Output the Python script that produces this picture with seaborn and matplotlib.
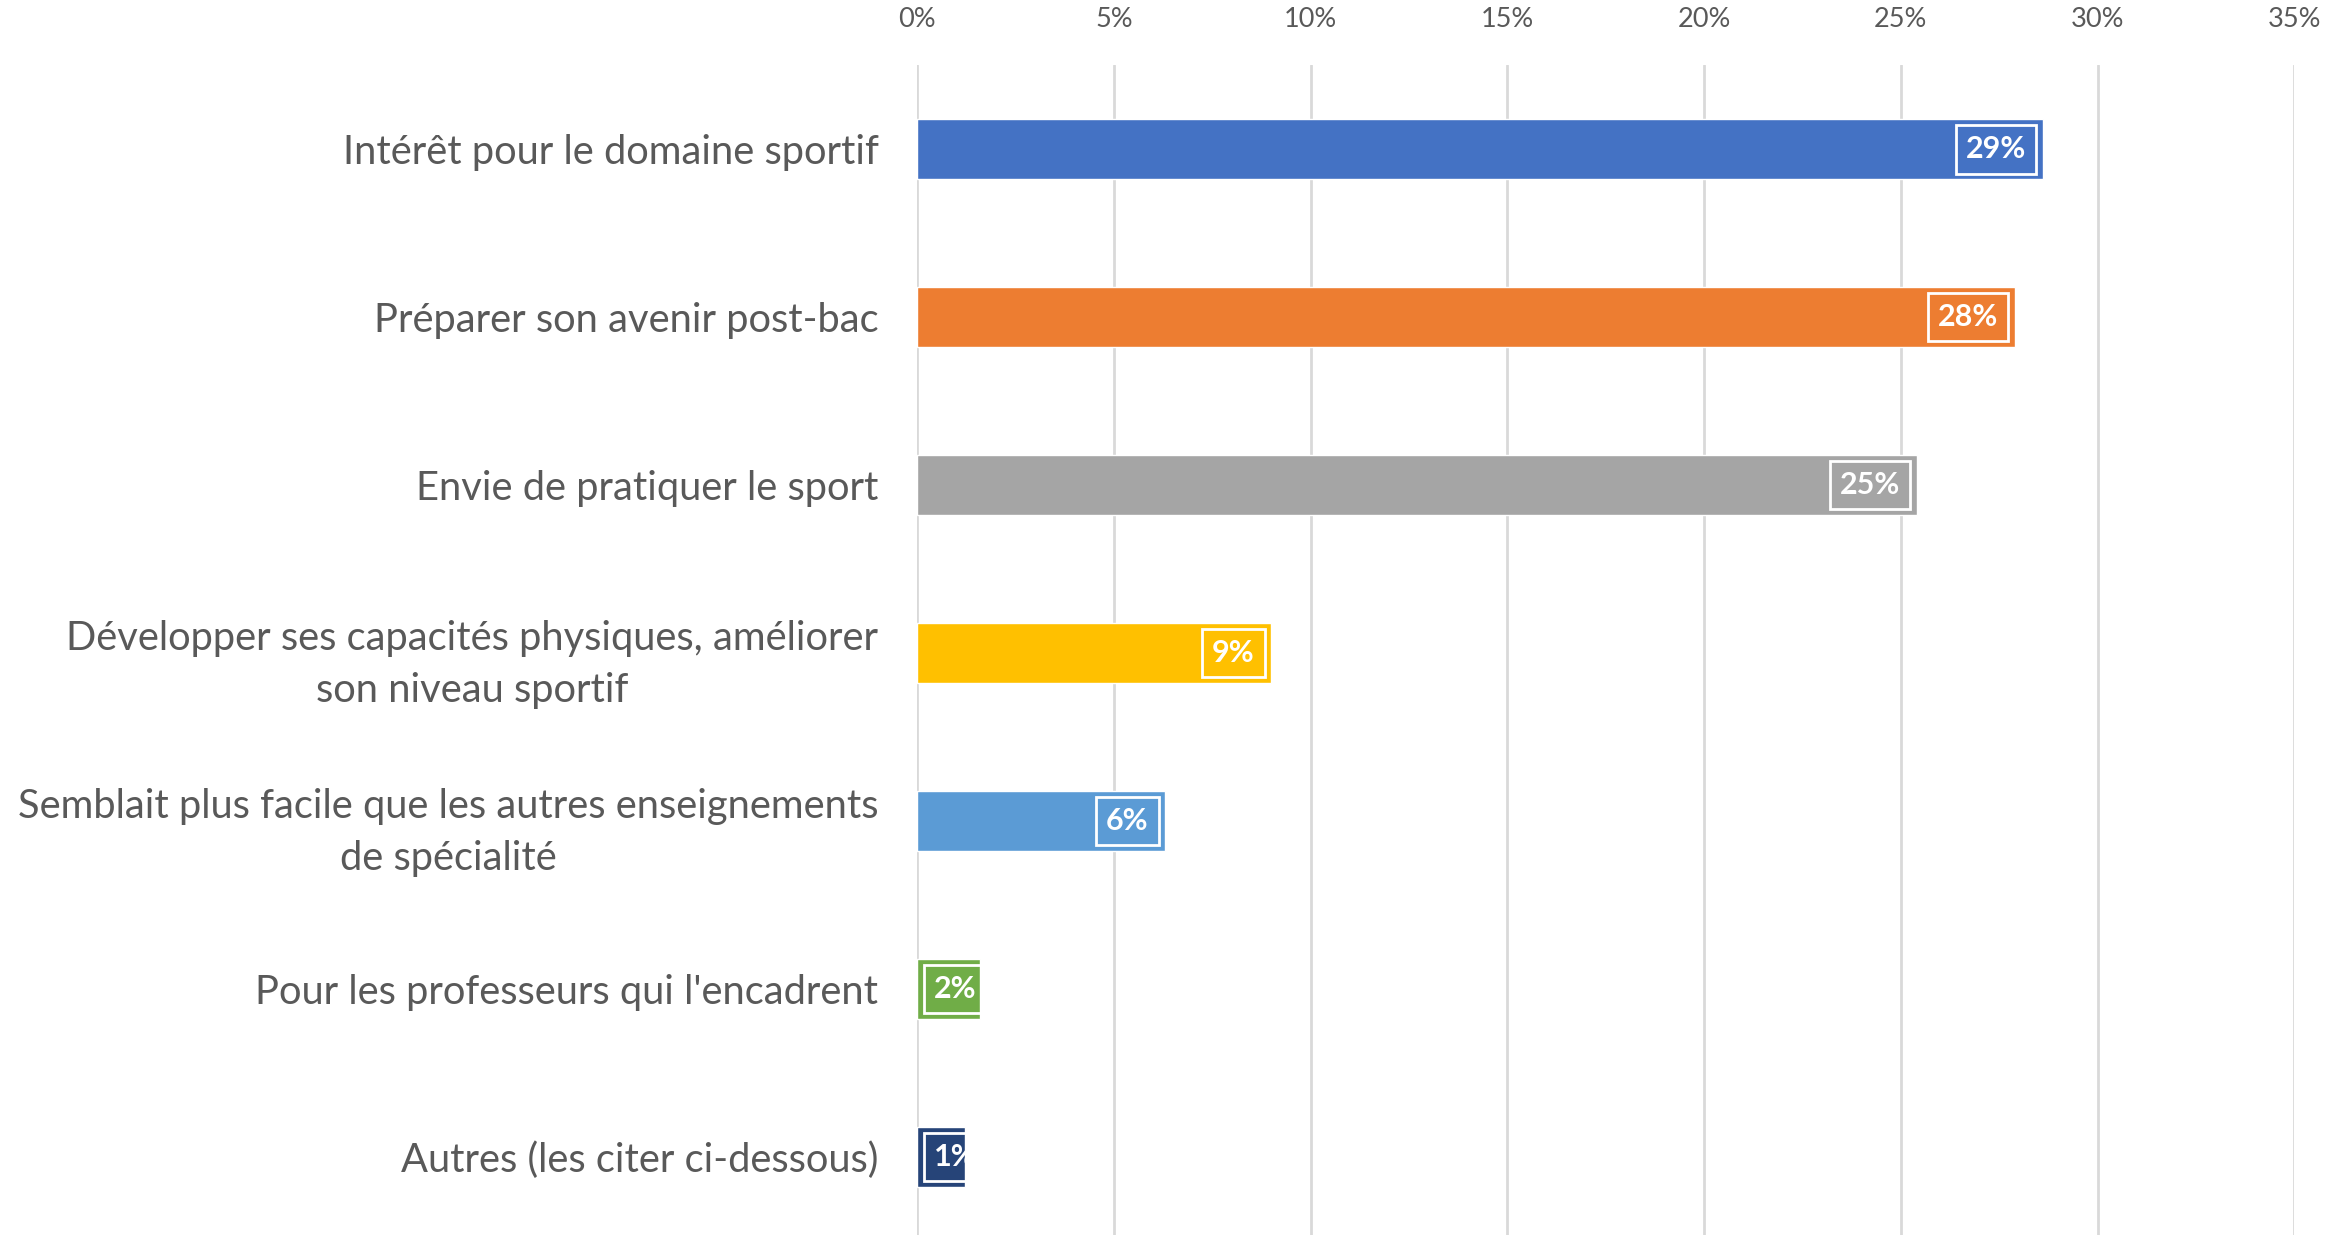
import pandas as pd
import seaborn as sns
import matplotlib.pyplot as plt
from matplotlib.ticker import PercentFormatter

# -----------------------------
# Data
# -----------------------------
reasons = [
    "Intérêt pour le domaine sportif",
    "Préparer son avenir post-bac",
    "Envie de pratiquer le sport",
    "Développer ses capacités physiques, améliorer\nson niveau sportif",
    "Semblait plus facile que les autres enseignements\nde spécialité",
    "Pour les professeurs qui l'encadrent",
    "Autres (les citer ci-dessous)",
]
shares = [28.6, 27.9, 25.4, 9.0, 6.3, 1.6, 1.2]
labels = ["29%", "28%", "25%", "9%", "6%", "2%", "1%"]
colors = ["#4472C4", "#ED7D31", "#A5A5A5", "#FFC000", "#5B9BD5", "#70AD47", "#264478"]
x_ticks = [0, 5, 10, 15, 20, 25, 30, 35]

df = pd.DataFrame({"reason": reasons, "share": shares})

# -----------------------------
# Plot
# -----------------------------
sns.set_style("white")
plt.rcParams["font.family"] = ["Lato", "DejaVu Sans"]
text_grey = "#595959"

fig = plt.figure(figsize=(23.46, 12.35), dpi=100)
ax = fig.add_axes([0.391, -0.005, 0.587, 0.952])

sns.barplot(data=df, y="reason", x="share", hue="reason", palette=colors,
            order=reasons, width=0.357, dodge=False, legend=False,
            saturation=1, ax=ax)

ax.set_xlim(0, 35)
ax.set_ylim(6.5, -0.5)
ax.set_xticks(x_ticks)
ax.xaxis.set_major_formatter(PercentFormatter(decimals=0))
ax.xaxis.tick_top()
ax.grid(axis="x", color="#D9D9D9", linewidth=2)
ax.set_axisbelow(True)
sns.despine(ax=ax, left=True, bottom=True, top=True, right=True)
ax.set_xlabel("")
ax.set_ylabel("")
ax.tick_params(axis="x", length=0, pad=24, labelsize=19.5, labelcolor=text_grey)
ax.tick_params(axis="y", length=0, pad=28, labelsize=28.7, labelcolor=text_grey)
for t in ax.get_yticklabels():
    t.set_multialignment("center")
    t.set_linespacing(1.5)

# data labels (small bars: label at the start, clipped by the bar like Excel)
box = dict(boxstyle="square,pad=0.33", fc="none", ec="white", lw=2)
for bar, val, lab in zip(ax.patches, shares, labels):
    yc = bar.get_y() + bar.get_height() / 2
    if val > 4:
        ax.annotate(lab, xy=(val, yc), xytext=(-12, 0), textcoords="offset points",
                    ha="right", va="center", color="white", fontsize=22,
                    fontweight="bold", bbox=box)
    else:
        txt = ax.annotate(lab, xy=(0, yc), xytext=(12, 0), textcoords="offset points",
                          ha="left", va="center", color="white", fontsize=22,
                          fontweight="bold", bbox=box)
        txt.set_clip_path(bar)

fig.savefig("out.png", dpi=100)
